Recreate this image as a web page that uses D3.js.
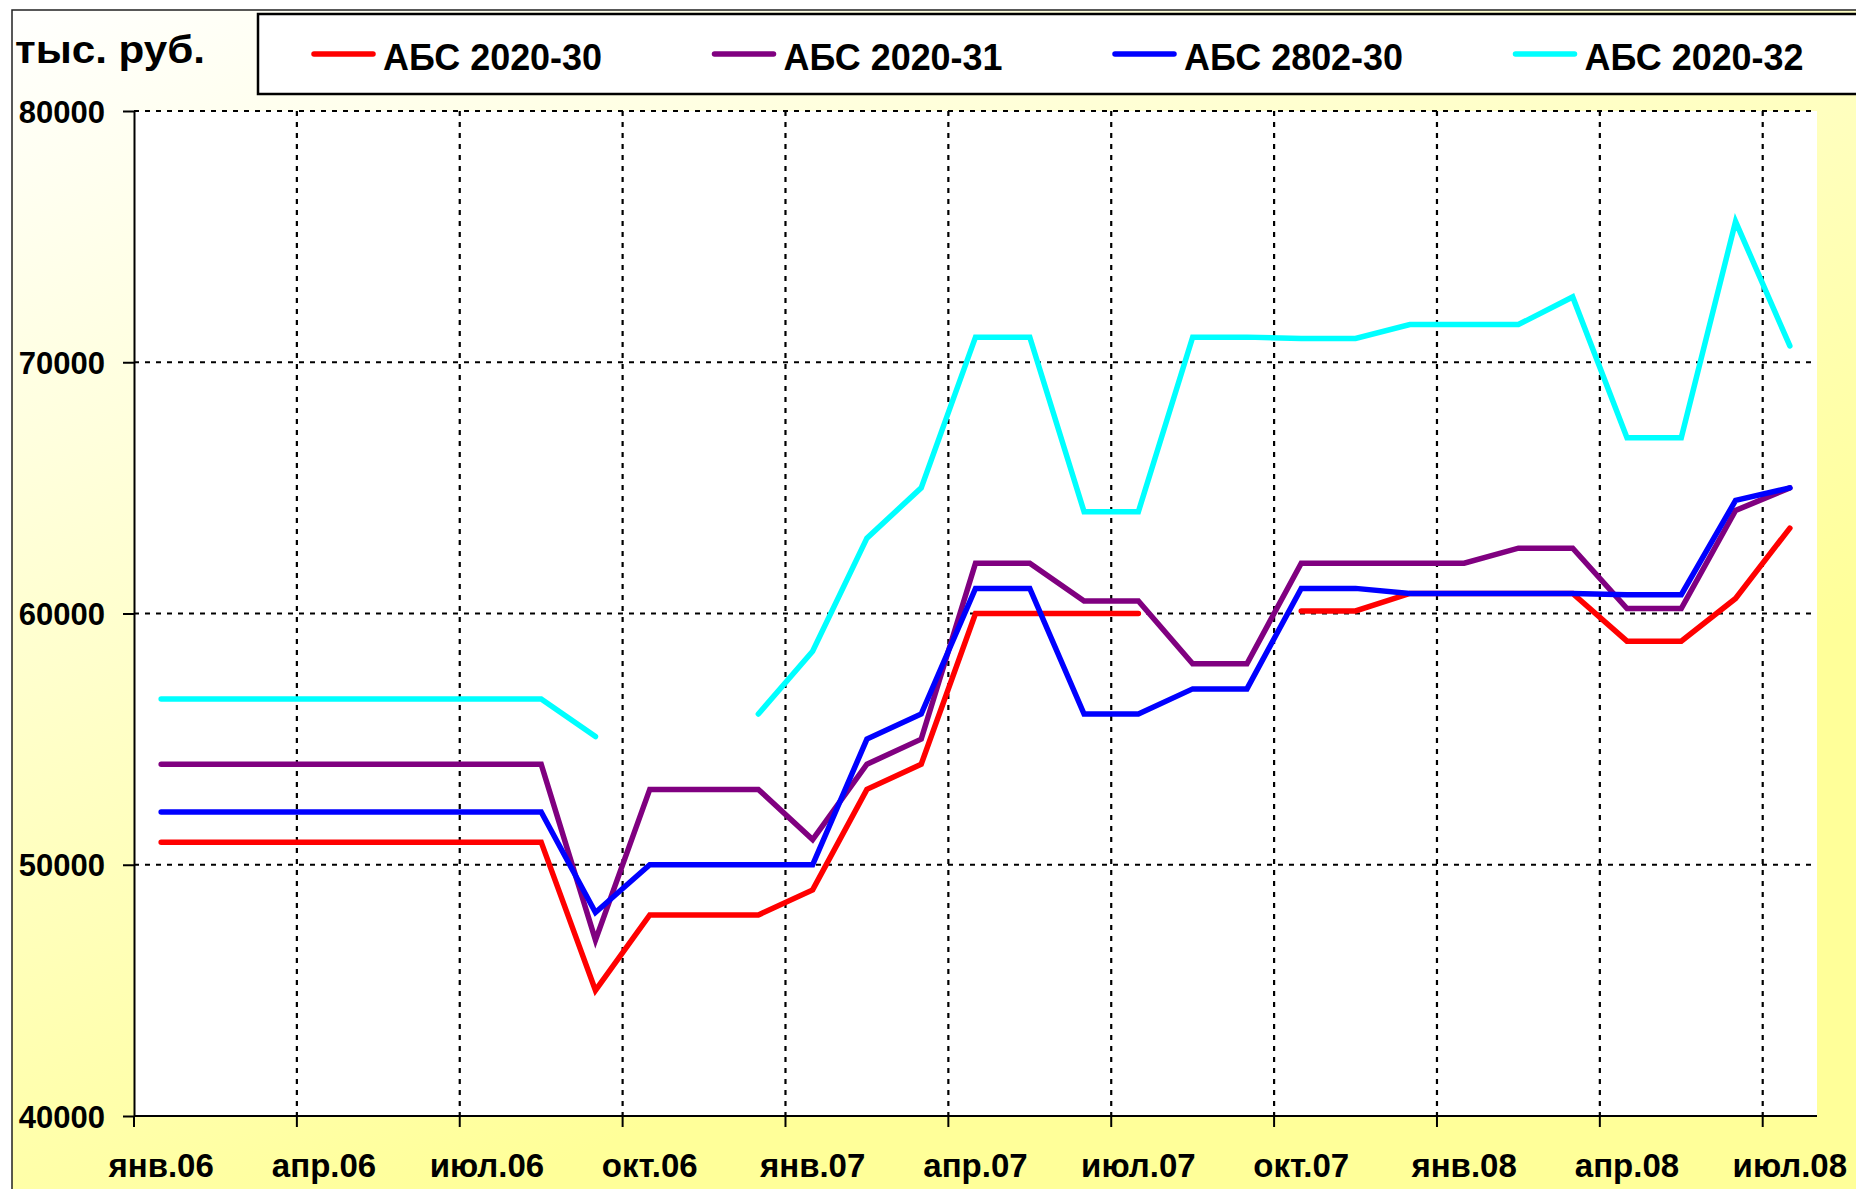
<!DOCTYPE html>
<html><head><meta charset="utf-8">
<script src="https://cdn.jsdelivr.net/npm/d3@7"></script>
<style>
html,body{margin:0;padding:0;background:#fff;}
svg{display:block;}
text{font-family:"Liberation Sans",Arial,sans-serif;font-weight:bold;fill:#000;}
</style></head>
<body>
<script>
const categories = ["янв.06","фев.06","мар.06","апр.06","май.06","июн.06","июл.06","авг.06","сен.06","окт.06","ноя.06","дек.06",
"янв.07","фев.07","мар.07","апр.07","май.07","июн.07","июл.07","авг.07","сен.07","окт.07","ноя.07","дек.07",
"янв.08","фев.08","мар.08","апр.08","май.08","июн.08","июл.08"];
const tickLabels = ["янв.06","апр.06","июл.06","окт.06","янв.07","апр.07","июл.07","окт.07","янв.08","апр.08","июл.08"];
const yTicks = [40000,50000,60000,70000,80000];
const seriesNames = ["АБС 2020-30","АБС 2020-31","АБС 2802-30","АБС 2020-32"];
const seriesColors = ["#FF0000","#800080","#0000FF","#00FFFF"];
const abs2020_30 = [50900,50900,50900,50900,50900,50900,50900,50900,45000,48000,48000,48000,49000,53000,54000,60000,60000,60000,60000,null,null,60100,60100,60800,60800,60800,60800,58900,58900,60600,63400];
const abs2020_31 = [54000,54000,54000,54000,54000,54000,54000,54000,47000,53000,53000,53000,51000,54000,55000,62000,62000,60500,60500,58000,58000,62000,62000,62000,62000,62600,62600,60200,60200,64100,65000];
const abs2802_30 = [52100,52100,52100,52100,52100,52100,52100,52100,48100,50000,50000,50000,50000,55000,56000,61000,61000,56000,56000,57000,57000,61000,61000,60800,60800,60800,60800,60750,60750,64500,65000];
const abs2020_32 = [56600,56600,56600,56600,56600,56600,56600,56600,55100,null,null,56000,58500,63000,65000,71000,71000,64050,64050,71000,71000,70950,70950,71500,71500,71500,72600,67000,67000,75600,70650];
const unitLabel = "тыс. руб.";

const W = 1856, H = 1189;
const svg = d3.select("body").append("svg").attr("width", W).attr("height", H);
const defs = svg.append("defs");
const grad = defs.append("linearGradient").attr("id","bg").attr("gradientUnits","userSpaceOnUse")
  .attr("x1",0).attr("y1",0).attr("x2",500).attr("y2",1189);
grad.append("stop").attr("offset",0).attr("stop-color","#FFFFFF");
grad.append("stop").attr("offset",1).attr("stop-color","#FFFF99");

svg.append("rect").attr("x",12).attr("y",10).attr("width",W+20).attr("height",H+20)
  .attr("fill","url(#bg)").attr("stroke","#222").attr("stroke-width",1.5);

const L = 134, R = 1817, T = 111, B = 1116;
const x = d3.scaleBand().domain(categories).range([L, R]).padding(0);
const bw = x.bandwidth();
const y = d3.scaleLinear().domain([40000, 80000]).range([B, T]);

svg.append("rect").attr("x",L).attr("y",T).attr("width",R-L).attr("height",B-T).attr("fill","#fff");

const grid = svg.append("g").attr("stroke","#000").attr("stroke-width",2.2).attr("stroke-dasharray","5,6");
grid.selectAll("line.h").data(yTicks.filter(v => v > 40000)).join("line")
  .attr("x1",L).attr("x2",R).attr("y1",d=>y(d)).attr("y2",d=>y(d));
grid.selectAll("line.v").data(tickLabels.slice(1)).join("line")
  .attr("x1",d=>x(d)).attr("x2",d=>x(d)).attr("y1",T).attr("y2",B);

const yAxis = svg.append("g").attr("transform",`translate(${L},0)`)
  .call(d3.axisLeft(y).tickValues(yTicks).tickSize(11).tickSizeOuter(0).tickFormat(d3.format("d")));
yAxis.select(".domain").attr("stroke","#000").attr("stroke-width",2);
yAxis.selectAll(".tick line").attr("stroke","#000").attr("stroke-width",2);
yAxis.selectAll(".tick text").attr("x",-29).attr("font-size",31).attr("dy","0.36em")
  .style("font-family","'Liberation Sans',Arial,sans-serif").style("font-weight","bold");

const xAxis = svg.append("g");
xAxis.append("line").attr("x1",L).attr("x2",R).attr("y1",B).attr("y2",B).attr("stroke","#000").attr("stroke-width",2);
xAxis.selectAll("line.t").data(tickLabels).join("line")
  .attr("x1",d=>x(d)).attr("x2",d=>x(d)).attr("y1",B).attr("y2",B+11).attr("stroke","#000").attr("stroke-width",2);
xAxis.selectAll("text").data(tickLabels).join("text")
  .attr("x",d=>x(d)+bw/2).attr("y",1177).attr("text-anchor","middle").attr("font-size",33).text(d=>d);

const allSeries = [abs2020_30, abs2020_31, abs2802_30, abs2020_32];
const line = d3.line().defined(d => d != null).x((d,i) => x(categories[i]) + bw/2).y(d => y(d));
svg.append("g").selectAll("path").data(allSeries).join("path")
  .attr("d", d => line(d)).attr("fill","none")
  .attr("stroke",(d,i)=>seriesColors[i]).attr("stroke-width",5.5)
  .attr("stroke-linecap","round").attr("stroke-linejoin","miter");

svg.append("text").attr("x",15).attr("y",63).attr("font-size",38)
  .attr("textLength",190).attr("lengthAdjust","spacingAndGlyphs").text(unitLabel);

const lg = svg.append("g");
lg.append("rect").attr("x",258).attr("y",14).attr("width",W).attr("height",80)
  .attr("fill","#fff").attr("stroke","#000").attr("stroke-width",2.5);
const items = lg.selectAll("g.item").data(seriesNames).join("g")
  .attr("transform",(d,i)=>`translate(${312 + i*400.5},0)`);
items.append("line").attr("x1",2).attr("x2",61).attr("y1",54).attr("y2",54)
  .attr("stroke",(d,i)=>seriesColors[i]).attr("stroke-width",5.5).attr("stroke-linecap","round");
items.append("text").attr("x",71).attr("y",70).attr("font-size",36)
  .attr("textLength",219).attr("lengthAdjust","spacingAndGlyphs").text(d=>d);
</script>
</body></html>
